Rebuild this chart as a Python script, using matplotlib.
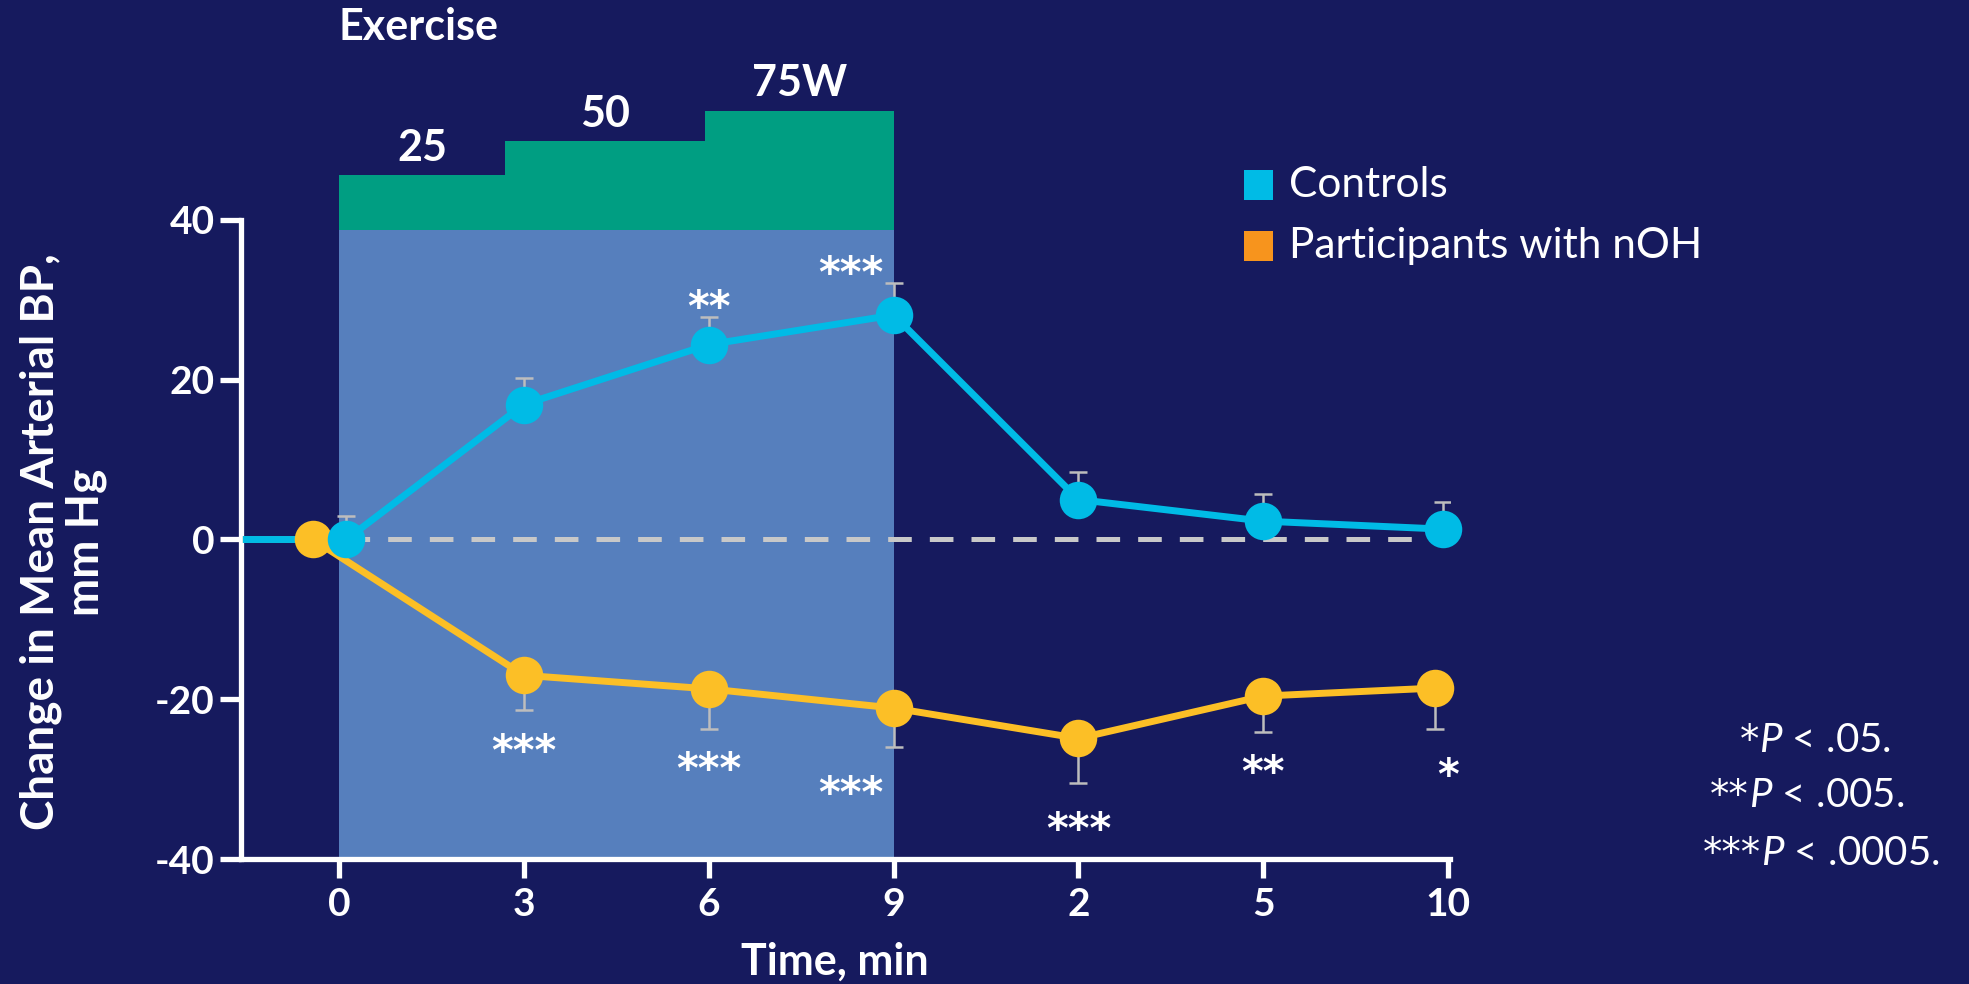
import matplotlib
matplotlib.use("Agg")
import matplotlib.pyplot as plt
from matplotlib.patches import Rectangle

# ---- data ----
tick_labels = ['0', '3', '6', '9', '2', '5', '10']

# x positions along the categorical time axis (exercise 0-9 min, then recovery 2-10 min)
controls_x = [0.04, 1, 2, 3, 4, 5, 5.97]
controls_y = [0.0, 16.9, 24.4, 28.1, 5.0, 2.3, 1.3]
controls_err = [3.0, 3.3, 3.4, 4.0, 3.4, 3.4, 3.4]
controls_stars = ['', '', '**', '***', '', '', '']

noh_x = [-0.14, 1, 2, 3, 4, 5, 5.93]
noh_y = [0.0, -17.0, -18.7, -21.1, -24.9, -19.6, -18.6]
noh_err = [0.0, 4.4, 5.0, 4.9, 5.6, 4.5, 5.1]
noh_stars = ['', '***', '***', '***', '***', '**', '*']

stage_labels = ['25', '50', '75W']
stage_edges = [0, 0.9, 1.98, 3.0]
stage_tops = [45.6, 49.9, 53.7]
exercise_top = 38.7

footnote_stars = ['*', '**', '***']
footnote_text = ['$P$ < .05.', '$P$ < .005.', '$P$ < .0005.']

# ---- style ----
BG = '#161A5E'
SHADE = '#567FBD'
GREEN = '#009E82'
CYAN = '#00BBE6'
YELLOW = '#FCBF26'
LEG_ORANGE = '#F7941D'
GREY = '#BDBDBD'
STAR_FONT = dict(family='DejaVu Sans', fontweight='bold')

plt.rcParams['font.family'] = ['Lato', 'DejaVu Sans']
plt.rcParams['mathtext.fontset'] = 'custom'
plt.rcParams['mathtext.rm'] = 'Lato'
plt.rcParams['mathtext.it'] = 'Lato:italic'
plt.rcParams['lines.scale_dashes'] = False

W, H = 1969, 984
fig = plt.figure(figsize=(W / 100, H / 100), dpi=100, facecolor=BG)
ax = fig.add_axes([241 / W, 1 - 859 / H, (1450 - 241) / W, (859 - 220) / H])
ax.set_facecolor(BG)

ax.set_xlim(-0.53, 6.01)
ax.set_ylim(-40, 40)

# exercise window
ax.add_patch(Rectangle((stage_edges[0], -40), stage_edges[-1] - stage_edges[0], exercise_top + 40,
                       facecolor=SHADE, edgecolor='none', zorder=0))
for i, lab in enumerate(stage_labels):
    x0, x1 = stage_edges[i], stage_edges[i + 1]
    ax.add_patch(Rectangle((x0, exercise_top), x1 - x0, stage_tops[i] - exercise_top,
                           facecolor=GREEN, edgecolor='none', clip_on=False, zorder=0))
    ax.text((x0 + x1) / 2, stage_tops[i] + 3.4, lab, ha='center', va='center', color='white',
            fontsize=31, fontweight='bold', clip_on=False)
ax.text(0.0, 64.2, 'Exercise', ha='left', va='center', color='white', fontsize=31,
        fontweight='bold', clip_on=False)

# zero reference
ax.plot([controls_x[0], 6.0], [0, 0], color='#C8C8C8', lw=3.6, dashes=(17, 13), zorder=2)

x_start = ax.get_xlim()[0] + 0.01
for xs, ys, errs, col, up in [(noh_x, noh_y, noh_err, YELLOW, False),
                              (controls_x, controls_y, controls_err, CYAN, True)]:
    yerr = [[0] * len(errs), errs] if up else [errs, [0] * len(errs)]
    ax.errorbar(xs, ys, yerr=yerr, fmt='none', ecolor=GREY, elinewidth=1.8, capsize=6.5,
                capthick=1.8, zorder=3)
    ax.plot([x_start] + xs, [0] + ys, color=col, lw=5, solid_capstyle='butt', zorder=4,
            clip_on=False)
    ax.plot(xs, ys, 'o', color=col, markersize=27, markeredgewidth=0, zorder=5, clip_on=False)

# significance marks, placed just beyond the end of each error bar
for xs, ys, errs, stars, sign in [(controls_x, controls_y, controls_err, controls_stars, 1),
                                  (noh_x, noh_y, noh_err, noh_stars, -1)]:
    for i, s in enumerate(stars):
        if not s:
            continue
        dx = -0.23 if i == 3 else 0.0
        if i == 6:
            dx = 0.07
        gap = 2.7 if sign > 0 else 3.6
        if sign < 0 and i in (3, 4, 6):
            gap = 4.3
        ax.text(xs[i] + dx, ys[i] + sign * (errs[i] + gap) - 1.7, s, ha='center', va='center',
                color='white', fontsize=30, zorder=6, clip_on=False, **STAR_FONT)

# axes
for side in ['top', 'right']:
    ax.spines[side].set_visible(False)
for side in ['left', 'bottom']:
    ax.spines[side].set_color('white')
    ax.spines[side].set_linewidth(3.8)
ax.set_yticks([-40, -20, 0, 20, 40])
ax.set_yticklabels(['-40', '-20', '0', '20', '40'])
ax.set_xticks(range(len(tick_labels)))
ax.set_xticklabels(tick_labels)
ax.tick_params(axis='both', colors='white', width=3.8, labelsize=28)
ax.tick_params(axis='y', length=15, pad=4)
ax.tick_params(axis='x', length=14, pad=6)
for lab in ax.get_xticklabels() + ax.get_yticklabels():
    lab.set_fontweight('bold')

ax.set_xlabel('Time, min', color='white', fontsize=31, fontweight='bold')
ax.xaxis.label.set_va('center')
ax.xaxis.set_label_coords(0.491, -0.161)
ax.set_ylabel('Change in Mean Arterial BP,\nmm Hg', color='white', fontsize=33,
              fontweight='bold', multialignment='center', linespacing=1.1)
ax.yaxis.label.set_va('center')
ax.yaxis.set_label_coords(-0.147, 0.496)

# legend
for yc, lab, col in [(185, 'Controls', CYAN), (246, 'Participants with nOH', LEG_ORANGE)]:
    fig.add_artist(Rectangle((1244 / W, 1 - (yc + 15) / H), 29 / W, 30 / H,
                             transform=fig.transFigure, facecolor=col, edgecolor='none'))
    fig.text(1289 / W, 1 - yc / H, lab, ha='left', va='center', color='white', fontsize=30.5)

# footnote: asterisks set separately so they read at full size
for xs, yb, st, note in zip([1759, 1749, 1761], [752, 807, 865], footnote_stars, footnote_text):
    fig.text(xs / W, 1 - yb / H, st, ha='right', va='baseline', color='white',
             fontsize=28, family='DejaVu Sans')
    fig.text(xs / W, 1 - yb / H, note, ha='left', va='baseline', color='white', fontsize=29)

fig.savefig('out.png', dpi=100, facecolor=BG)
